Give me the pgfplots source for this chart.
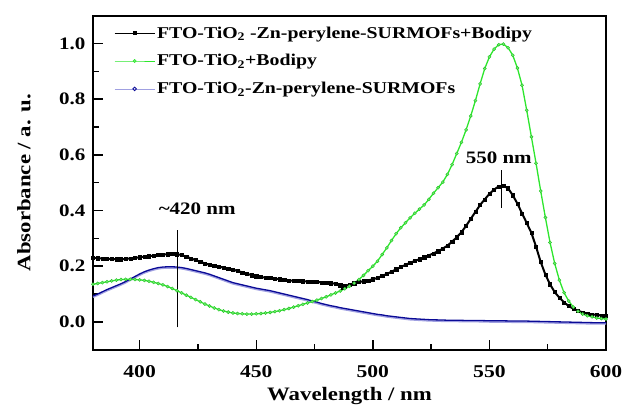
\documentclass[border=0pt]{standalone}
\usepackage{fontspec}
\setmainfont{Liberation Serif}[FakeStretch=1.2]
\usepackage{pgfplots}
\usepackage{pgfplotstable}
\pgfplotsset{compat=1.18}
\definecolor{bgreen}{RGB}{45,230,45}
\definecolor{navyb}{RGB}{10,10,150}
\definecolor{lav}{RGB}{160,160,225}

\pgfplotstableread{
x y
380 .230
382 .229
384 .228
386 .227
388 .226
390 .225
392 .225
394 .226
396 .228
398 .230
400 .232
402 .234
404 .236
406 .238
408 .240
410 .242
412 .243
414 .244
416 .243
418 .240
420 .234
422 .228
424 .222
426 .216
428 .210
430 .205
432 .201
434 .198
436 .195
438 .192
440 .188
442 .183
444 .178
446 .173
448 .168
450 .164
452 .161
454 .159
456 .158
458 .156
460 .153
462 .151
464 .149
466 .148
468 .147
470 .146
472 .145
474 .144
476 .143
478 .142
480 .141
482 .139
484 .137
486 .132
487 .124
488 .128
490 .134
492 .139
494 .143
496 .146
498 .149
500 .153
502 .158
504 .165
506 .172
508 .180
510 .189
512 .197
514 .205
516 .212
518 .219
520 .225
522 .232
524 .239
526 .246
528 .254
530 .263
532 .274
534 .288
536 .304
538 .322
540 .345
542 .370
544 .395
546 .420
548 .440
550 .460
552 .475
554 .487
556 .489
558 .480
560 .455
562 .425
564 .390
566 .355
568 .320
570 .270
572 .215
574 .170
576 .135
578 .107
580 .087
582 .070
584 .057
586 .047
588 .040
590 .034
592 .030
594 .027
596 .025
598 .023
600 .022
}\blackdata

\pgfplotstableread{
x y
380 .135
382 .138
384 .141
386 .144
388 .147
390 .150
392 .152
394 .153
396 .153
398 .152
400 .151
402 .149
404 .146
406 .142
408 .138
410 .133
412 .127
414 .120
416 .112
418 .104
420 .096
422 .088
424 .080
426 .072
428 .064
430 .057
432 .050
434 .044
436 .039
438 .035
440 .032
442 .030
444 .029
446 .028
448 .028
450 .029
452 .030
454 .032
456 .034
458 .037
460 .040
462 .044
464 .048
466 .053
468 .058
470 .063
472 .068
474 .073
476 .078
478 .084
480 .090
482 .097
484 .104
486 .111
488 .119
490 .128
492 .139
494 .152
496 .167
498 .184
500 .200
502 .218
504 .242
506 .266
508 .292
510 .317
512 .338
514 .356
516 .374
518 .390
520 .405
522 .420
524 .440
526 .462
528 .482
530 .502
532 .530
534 .565
536 .605
538 .645
540 .690
542 .740
544 .795
546 .855
548 .910
550 .952
552 .980
554 .996
556 .998
558 .985
560 .958
562 .912
564 .850
566 .760
568 .665
570 .570
572 .470
574 .375
576 .285
578 .210
580 .150
582 .105
584 .075
586 .053
588 .038
590 .028
592 .022
594 .018
596 .014
598 .012
600 .010
}\greendata

\pgfplotstableread{
x y
380 .093
382 .100
384 .108
386 .116
388 .123
390 .130
392 .137
394 .145
396 .154
398 .163
400 .172
402 .180
404 .186
406 .191
408 .195
410 .197
412 .198
414 .198
416 .197
418 .195
420 .192
422 .188
424 .184
426 .180
428 .176
430 .171
432 .165
434 .159
436 .153
438 .147
440 .141
442 .137
444 .133
446 .129
448 .125
450 .121
452 .118
454 .115
456 .112
458 .108
460 .104
462 .100
464 .096
466 .092
468 .088
470 .084
472 .080
474 .075
476 .071
478 .066
480 .062
482 .058
484 .055
486 .051
488 .048
490 .045
492 .042
494 .039
496 .036
498 .033
500 .030
502 .027
504 .025
506 .022
508 .020
510 .018
512 .016
514 .014
516 .012
518 .011
520 .010
524 .008
528 .007
532 .006
536 .006
540 .005
545 .005
550 .004
555 .004
560 .003
565 .003
570 .002
575 .001
580 .000
585 -.001
590 -.002
595 -.003
600 -.003
}\bluedata

\begin{document}
\begin{tikzpicture}
\begin{axis}[
  scale only axis, width=513pt, height=334pt,
  xmin=380, xmax=600, ymin=-0.1, ymax=1.1,
  xtick={400,450,500,550,600},
  ytick={0,0.2,0.4,0.6,0.8,1.0},
  minor x tick num=1, minor y tick num=1,
  tick align=inside, xtick pos=bottom, ytick pos=left,
  major tick length=10pt, minor tick length=6pt,
  every tick/.style={black, line width=1.4pt},
  axis line style={line width=2.2pt},
  /pgf/number format/assume math mode=true,
  yticklabel style={font=\fontsize{17.5}{20}\selectfont\bfseries, xshift=-4pt,
    /pgf/number format/.cd, fixed, fixed zerofill, precision=1},
  xticklabel style={font=\fontsize{18}{21}\selectfont\bfseries, yshift=-12pt},
  xlabel={Wavelength / nm},
  ylabel={Absorbance / a. u.},
  xlabel style={font=\fontsize{19}{22}\selectfont\bfseries, at={(axis description cs:0.5,-0.14)}, anchor=center},
  ylabel style={font=\fontsize{19}{22}\selectfont\bfseries, at={(axis description cs:-0.1345,0.5)}, anchor=center},
  legend image code/.code={
    \draw[mark repeat=2,mark phase=2,#1] plot coordinates {(0pt,0pt) (20pt,0pt) (40pt,0pt)};
  },
  legend style={at={(axis description cs:0.035,0.98)}, anchor=north west,
    draw=none, fill=none, font=\fontsize{16.5}{19}\selectfont\bfseries,
    row sep=11pt},
  legend cell align=left,
]
\addlegendimage{black, line width=0.9pt, mark=square*, mark size=1.6pt}
\addlegendentry{FTO-TiO\textsubscript{2} -Zn-perylene-SURMOFs+Bodipy}
\addlegendimage{bgreen, line width=0.5pt, mark=*, mark size=1.6pt, mark options={fill=bgreen!70!white}}
\addlegendentry{FTO-TiO\textsubscript{2}+Bodipy}
\addlegendimage{lav, line width=0.8pt, mark=o, mark size=1.8pt, mark options={navyb, line width=0.8pt}}
\addlegendentry{FTO-TiO\textsubscript{2}-Zn-perylene-SURMOFs}

\addplot[lav, line width=1.8pt, yshift=-1.1pt, forget plot] table {\bluedata};
\addplot[navyb, line width=1.3pt, forget plot] table {\bluedata};
\addplot[black, line width=2pt, mark=square*, mark size=1.6pt, mark options={line width=0.4pt}, forget plot] table {\blackdata};
\addplot[bgreen, line width=1.3pt, mark=*, mark size=1.6pt, mark options={fill=bgreen!70!white, draw=bgreen!85!black, line width=0.4pt}, forget plot] table {\greendata};

\addplot[black, line width=0.6pt, forget plot] coordinates {(416,-0.02) (416,0.33)};
\addplot[black, line width=0.6pt, forget plot] coordinates {(555,0.41) (555,0.545)};
\node[font=\fontsize{17.5}{20}\selectfont\bfseries] at (axis cs:424.7,0.406) {\textasciitilde420 nm};
\node[font=\fontsize{17.5}{20}\selectfont\bfseries] at (axis cs:554,0.59) {550 nm};
\end{axis}
\path ([shift={(-93pt,-59pt)}]current axis.south west) rectangle ([shift={(20pt,15.7pt)}]current axis.north east);
\end{tikzpicture}
\end{document}
